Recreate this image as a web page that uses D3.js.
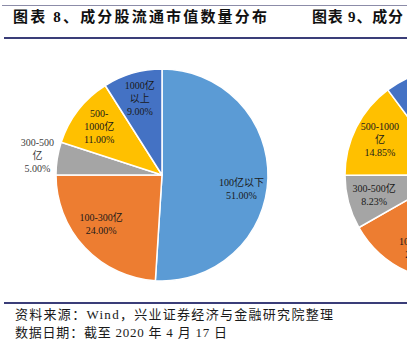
<!DOCTYPE html>
<html>
<head>
<meta charset="utf-8">
<script src="https://cdn.jsdelivr.net/npm/d3@7"></script>
<style>
  html, body { margin: 0; padding: 0; background: #fff; }
  svg { display: block; }
</style>
</head>
<body>
<svg id="chart" width="407" height="346"></svg>
<script>
// ---- data ----
const categories = ["100亿以下", "100-300亿", "300-500亿", "500-1000亿", "1000亿以上"];
const leftValues = [51.00, 24.00, 5.00, 11.00, 9.00];
const rightValues = [45.73, 21.02, 8.23, 14.85, 10.17];
const leftLabelLines = [["100亿以下"], ["100-300亿"], ["300-500", "亿"], ["500-", "1000亿"], ["1000亿", "以上"]];
const rightLabelLines = [["100亿以下"], ["100-300亿"], ["300-500亿"], ["500-1000", "亿"], ["1000亿", "以上"]];
const titleLeft = "图表 8、成分股流通市值数量分布";
const titleRight = "图表 9、成分";
const sourceText = "资料来源：Wind，兴业证券经济与金融研究院整理";
const dateText = "数据日期：截至 2020 年 4 月 17 日";

// ---- style / layout ----
const colors = ["#5B9BD5", "#ED7D31", "#A5A5A5", "#FFC000", "#4472C4"];
const W = 407, H = 346;
const R = 106;
const svg = d3.select("#chart");
svg.append("rect").attr("width", W).attr("height", H).attr("fill", "#fff");

const serif = "'Liberation Serif', 'Noto Sans CJK SC', serif";
const navy = "#3a3d78";

// header lines
svg.append("line").attr("x1", 2).attr("x2", W).attr("y1", 5.5).attr("y2", 5.5)
  .attr("stroke", "#8c8ca8").attr("stroke-width", 1);
svg.append("line").attr("x1", 4).attr("x2", W).attr("y1", 38).attr("y2", 38)
  .attr("stroke", navy).attr("stroke-width", 2);

// titles
svg.append("text").attr("x", 13).attr("y", 21.5)
  .attr("font-family", serif).attr("font-weight", "bold").attr("font-size", 15)
  .attr("fill", "#111").attr("textLength", 254).attr("lengthAdjust", "spacing")
  .text(titleLeft);
svg.append("text").attr("x", 312).attr("y", 21.5)
  .attr("font-family", serif).attr("font-weight", "bold").attr("font-size", 15)
  .attr("fill", "#111").attr("textLength", 91).attr("lengthAdjust", "spacing")
  .text(titleRight);

// pies
const pie = d3.pie().sort(null).value(d => d).startAngle(0).endAngle(2 * Math.PI);
const arc = d3.arc().innerRadius(0).outerRadius(R);

function drawPie(cx, cy, values, labelLines, nudges) {
  const g = svg.append("g").attr("transform", `translate(${cx},${cy})`);
  const arcs = pie(values);
  g.selectAll("path").data(arcs).join("path")
    .attr("d", arc)
    .attr("fill", (d, i) => colors[i])
    .attr("stroke", "#fff")
    .attr("stroke-width", 1.5)
    .attr("stroke-linejoin", "round");

  const lineH = 13;
  arcs.forEach((d, i) => {
    const share = d.value / d3.sum(values);
    const outside = share < 0.06;
    const lr = outside ? R * 1.19 : R * 0.75;
    const la = d3.arc().innerRadius(lr).outerRadius(lr);
    const [x, y0] = la.centroid(d);
    const nd = nudges[i] || [0, 0];
    const lines = labelLines[i].concat([d.value.toFixed(2) + "%"]);
    const yStart = y0 + nd[1] - (lines.length - 1) * lineH / 2;
    const t = g.append("text")
      .attr("font-family", serif)
      .attr("font-size", 10)
      .attr("fill", outside ? "#404040" : "#1a1a1a")
      .attr("text-anchor", "middle");
    lines.forEach((ln, k) => {
      t.append("tspan").attr("x", x + nd[0]).attr("y", yStart + k * lineH)
        .attr("dy", "0.35em").text(ln);
    });
    // labels lying wholly outside the visible crop are not drawn
    const bb = t.node().getBBox();
    if (cx + bb.x >= W || cx + bb.x + bb.width <= 0) t.remove();
  });
}

drawPie(162, 175, leftValues, leftLabelLines, {0: [0, 12], 1: [-3, -5]});
drawPie(451, 175, rightValues, rightLabelLines, {});

// footer
svg.append("line").attr("x1", 4).attr("x2", W).attr("y1", 303).attr("y2", 303)
  .attr("stroke", navy).attr("stroke-width", 2);
svg.append("text").attr("x", 15).attr("y", 318.5)
  .attr("font-family", serif).attr("font-size", 13).attr("fill", "#1a1a1a")
  .attr("textLength", 318).attr("lengthAdjust", "spacing")
  .text(sourceText);
svg.append("text").attr("x", 15).attr("y", 336.5)
  .attr("font-family", serif).attr("font-size", 13).attr("fill", "#1a1a1a")
  .attr("textLength", 212).attr("lengthAdjust", "spacing")
  .text(dateText);
</script>
</body>
</html>
